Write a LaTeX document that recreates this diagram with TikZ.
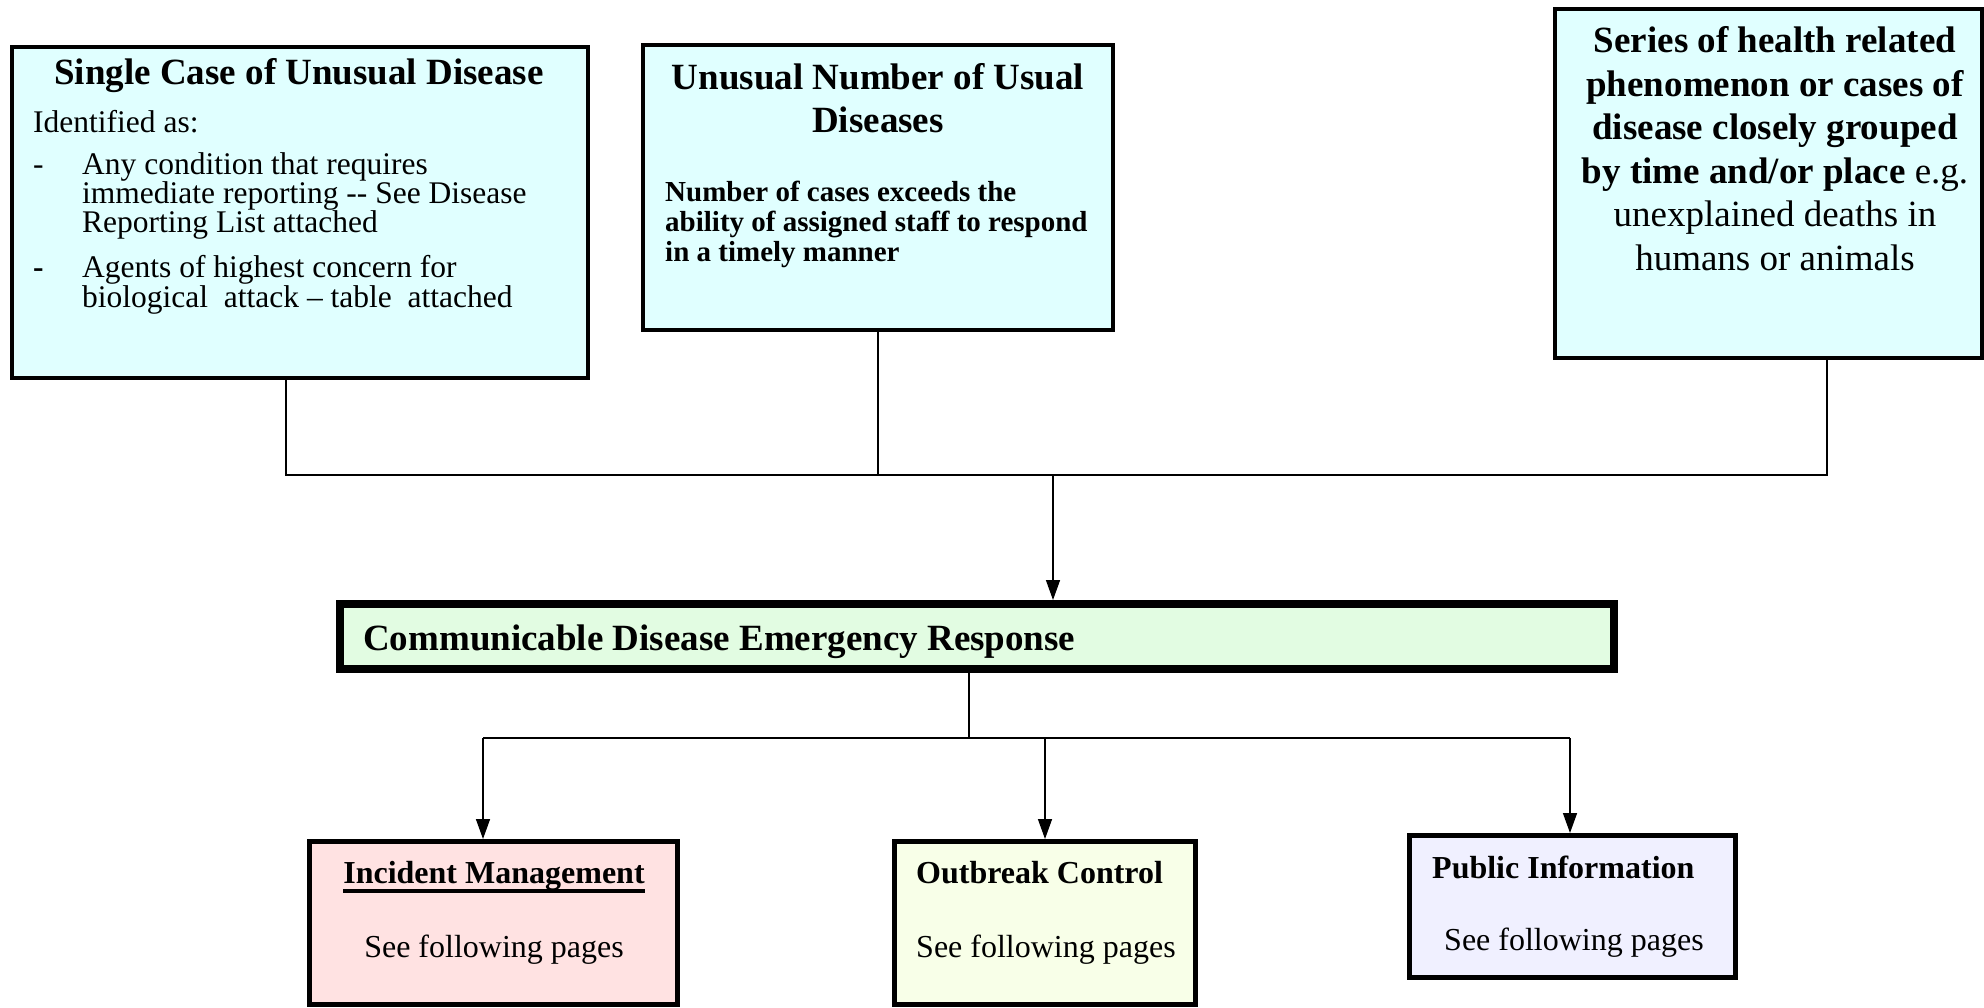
\documentclass[tikz,border=0pt]{standalone}
\usepackage{fontspec}
\setmainfont{Liberation Serif}
\usetikzlibrary{arrows.meta}
\definecolor{cyanbox}{RGB}{224,255,255}
\definecolor{greenbox}{RGB}{226,252,226}
\definecolor{pinkbox}{RGB}{255,226,226}
\definecolor{yellowbox}{RGB}{248,255,232}
\definecolor{lavbox}{RGB}{240,240,255}
\newcommand\szT{\fontsize{37}{42}\selectfont}
\newcommand\szA{\fontsize{31.5}{33}\selectfont}
\newcommand\szB{\fontsize{29}{30}\selectfont}
\newcommand\szC{\fontsize{32}{36}\selectfont}
\begin{document}
\begin{tikzpicture}[x=1pt,y=-1pt,
  topbox/.style={draw, line width=4pt, fill=cyanbox, rectangle, inner sep=0pt, outer sep=2pt},
  mainbox/.style={draw, line width=8pt, fill=greenbox, rectangle, inner sep=0pt, outer sep=4pt},
  lowbox/.style={draw, line width=5pt, rectangle, inner sep=0pt, outer sep=2.5pt},
  tl/.style={inner sep=0pt, anchor=base west},
  tc/.style={inner sep=0pt, anchor=base},
  conn/.style={line width=1.5pt},
  arr/.style={line width=1.5pt, -{Triangle[width=14pt,length=20pt]}}]
\useasboundingbox (0,0) rectangle (1984,1008);

% top boxes
\node[topbox, minimum width=576pt, minimum height=331pt] (b1) at (300,212.5) {};
\node[topbox, minimum width=470pt, minimum height=285pt] (b2) at (878,187.5) {};
\node[topbox, minimum width=427pt, minimum height=349pt] (b3) at (1768.5,183.5) {};

% box 1 text
\node[tc, font=\szT\bfseries] (b1t) at (299,85) {Single Case of Unusual Disease};
\node[tl, font=\szA] (b1a) at (33,133) {Identified as:};
\node[tl, font=\szA] (b1d1) at (33,175) {-};
\node[tl, font=\szA] (b1l1) at (82,175) {Any condition that requires};
\node[tl, font=\szA] (b1l2) at (82,204) {immediate reporting {-}{-} See Disease};
\node[tl, font=\szA] (b1l3) at (82,233) {Reporting List attached};
\node[tl, font=\szA\bfseries] (b1d2) at (33,278) {-};
\node[tl, font=\szA] (b1l4) at (82,278) {Agents of highest concern for};
\node[tl, font=\szA] (b1l5) at (82,308) {biological\ \ attack -- table\ \ attached};

% box 2 text
\node[tc, font=\szT\bfseries] (b2t1) at (878,90) {Unusual Number of Usual};
\node[tc, font=\szT\bfseries] (b2t2) at (878,133) {Diseases};
\node[tl, font=\szB\bfseries] (b2l1) at (665,202) {Number of cases exceeds the};
\node[tl, font=\szB\bfseries] (b2l2) at (665,232) {ability of assigned staff to respond};
\node[tl, font=\szB\bfseries] (b2l3) at (665,262) {in a timely manner};

% box 3 text
\node[tc, font=\szT\bfseries] (b3l1) at (1775,53) {Series of health related};
\node[tc, font=\szT\bfseries] (b3l2) at (1775,96.5) {phenomenon or cases of};
\node[tc, font=\szT\bfseries] (b3l3) at (1775,140) {disease closely grouped};
\node[tc, font=\szT] (b3l4) at (1775,183.5) {\textbf{by time and/or place} e.g.};
\node[tc, font=\szT] (b3l5) at (1775,227) {unexplained deaths in};
\node[tc, font=\szT] (b3l6) at (1775,270.5) {humans or animals};

% main box
\node[mainbox, minimum width=1274pt, minimum height=65pt] (cder) at (977,636.5) {};
\node[tl, font=\szT\bfseries] (cdert) at (363,650) {Communicable Disease Emergency Response};

% lower boxes
\node[lowbox, fill=pinkbox, minimum width=368pt, minimum height=163pt] (im) at (493.5,923) {};
\node[lowbox, fill=yellowbox, minimum width=301pt, minimum height=163pt] (oc) at (1045,923) {};
\node[lowbox, fill=lavbox, minimum width=326pt, minimum height=142pt] (pi) at (1572.5,906.5) {};

\node[tc, font=\szC\bfseries] (imt) at (494,883) {Incident Management};
\draw[line width=3.5pt] ([yshift=-8pt]imt.base west) -- ([yshift=-8pt]imt.base east);
\node[tc, font=\szC] (ims) at (494,957) {See following pages};
\node[tl, font=\szC\bfseries] (oct) at (916,883) {Outbreak Control};
\node[tl, font=\szC] (ocs) at (916,957) {See following pages};
\node[tl, font=\szC\bfseries] (pit) at (1432,878) {Public Information};
\node[tl, font=\szC] (pis) at (1444,950) {See following pages};

% top connectors
\coordinate (hL) at (286,475);
\coordinate (hR) at (1827,475);
\coordinate (hA) at (1053,475);
\draw[conn] (b1.south -| hL) -- (hL) -- (hR) -- (b3.south -| hR);
\draw[conn] (b2.south) -- (b2.south |- hL);
\draw[arr] (hA) -- (hA |- cder.north);

% bottom connectors
\coordinate (bJ) at (969,738);
\coordinate (bL) at (483,738);
\coordinate (bR) at (1570,738);
\draw[conn] (cder.south -| bJ) -- (bJ);
\draw[conn] (bL) -- (bR);
\draw[arr] (bL) -- (bL |- im.north);
\draw[arr] (oc.north |- bL) -- (oc.north);
\draw[arr] (bR) -- (bR |- pi.north);
\end{tikzpicture}
\end{document}
